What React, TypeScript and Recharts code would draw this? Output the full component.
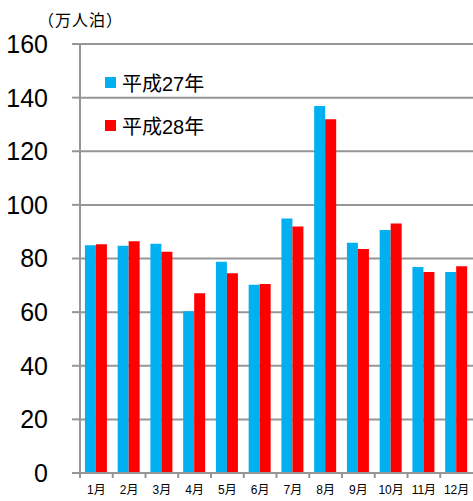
import React from 'react';
import { Bar, BarChart, CartesianGrid, Legend, XAxis, YAxis } from 'recharts';

const months = ['1月', '2月', '3月', '4月', '5月', '6月', '7月', '8月', '9月', '10月', '11月', '12月'];
const h27 = [84.9, 84.8, 85.5, 60.3, 78.8, 70.2, 94.9, 136.9, 85.9, 90.6, 76.8, 75.0];
const h28 = [85.3, 86.4, 82.5, 67.0, 74.5, 70.5, 91.9, 131.9, 83.5, 93.1, 75.0, 77.1];
const yTicks = [0, 20, 40, 60, 80, 100, 120, 140, 160];

const data = months.map((m, i) => ({ month: m, h27: h27[i], h28: h28[i] }));

const WIDTH = 473;
const HEIGHT = 501;
const AXIS_W = 80;
const GRID = '#969696';
const FONT = '"Liberation Sans", "Noto Sans CJK JP", Arial, sans-serif';
const band = (WIDTH - AXIS_W) / months.length;

function MonthTick({ x, y, payload }: any) {
  const left = x - band / 2;
  return (
    <g>
      <line x1={left} x2={left} y1={y} y2={y + 5} stroke={GRID} strokeWidth={2} />
      <text x={x} y={y + 21} textAnchor="middle" fontSize={12} fill="#000" fontFamily={FONT}>
        {payload.value}
      </text>
    </g>
  );
}

function LegendBox({ payload }: any) {
  return (
    <div style={{ fontFamily: FONT }}>
      {(payload || []).map((p: any) => (
        <div key={p.value} style={{ display: 'flex', alignItems: 'center', height: 43 }}>
          <span style={{ width: 11, height: 11, background: p.color, marginRight: 6 }} />
          <span style={{ fontSize: 20, color: '#000' }}>{p.value}</span>
        </div>
      ))}
    </div>
  );
}

export default function App() {
  return (
    <div style={{ position: 'fixed', left: 0, top: 0, width: WIDTH, height: HEIGHT, background: '#fff' }}>
      <div
        style={{
          position: 'absolute',
          left: 38,
          top: 7,
          fontSize: 16,
          fontFamily: FONT,
          color: '#000',
          letterSpacing: 1,
        }}
      >
        （万人泊）
      </div>
      <BarChart
        width={WIDTH}
        height={HEIGHT}
        data={data}
        margin={{ top: 44, right: 0, bottom: 0, left: 0 }}
        barCategoryGap="15%"
        barGap={0}
      >
        <CartesianGrid vertical={false} stroke={GRID} strokeWidth={2} />
        <XAxis
          dataKey="month"
          height={28}
          axisLine={{ stroke: GRID, strokeWidth: 2 }}
          tickLine={false}
          tickSize={0}
          tickMargin={0}
          interval={0}
          tick={<MonthTick />}
        />
        <YAxis
          width={AXIS_W}
          domain={[0, 160]}
          ticks={yTicks}
          interval={0}
          axisLine={{ stroke: GRID, strokeWidth: 2 }}
          tickLine={{ stroke: GRID, strokeWidth: 2 }}
          tickSize={8}
          tickMargin={24}
          tick={{ fontSize: 25, fill: '#000', fontFamily: FONT }}
        />
        <Legend
          layout="horizontal"
          verticalAlign="middle"
          align="center"
          content={<LegendBox />}
          wrapperStyle={{ left: 105, top: 61, width: 130, height: 86 }}
        />
        <Bar dataKey="h27" name="平成27年" fill="#00B0F0" isAnimationActive={false} />
        <Bar dataKey="h28" name="平成28年" fill="#FF0000" isAnimationActive={false} />
      </BarChart>
    </div>
  );
}
